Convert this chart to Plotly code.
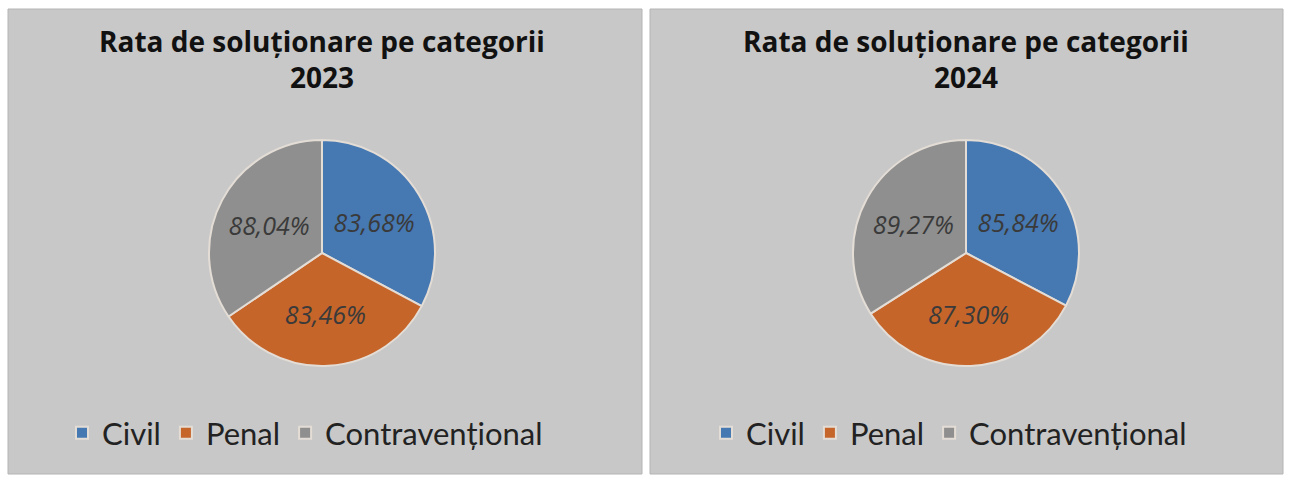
import plotly.graph_objects as go

W, H = 1301, 479

categories = ["Civil", "Penal", "Contravențional"]
rates_2023 = [83.68, 83.46, 88.04]
rates_2024 = [85.84, 87.30, 89.27]
labels_2023 = ["83,68%", "83,46%", "88,04%"]
labels_2024 = ["85,84%", "87,30%", "89,27%"]
years = ["2023", "2024"]

colors = ["#4678b2", "#c6652a", "#8f8f8f"]
bg = "#c8c8c8"


def px_x(v):
    return v / W


def px_y(v):
    return 1 - v / H


fig = go.Figure()

panels = [(8, 642), (650, 1283)]
centers = [322, 966]
cy, r = 253, 113

for i, (vals, txt) in enumerate([(rates_2023, labels_2023), (rates_2024, labels_2024)]):
    cx = centers[i]
    fig.add_trace(go.Pie(
        labels=categories,
        values=vals,
        text=txt,
        textinfo="text",
        hoverinfo="label+text",
        sort=False,
        direction="clockwise",
        rotation=0,
        marker=dict(colors=colors, line=dict(color="#e4ddd6", width=2)),
        textposition="inside",
        insidetextorientation="horizontal",
        textfont=dict(family="Open Sans", size=25, color="#3a3a3a", style="italic"),
        domain=dict(x=[px_x(cx - r), px_x(cx + r)], y=[px_y(cy + r), px_y(cy - r)]),
        legend="legend" if i == 0 else "legend2",
        legendgroup=years[i],
        showlegend=True,
    ))

for (x0, x1), cx, yr in zip(panels, centers, years):
    fig.add_shape(type="rect", xref="paper", yref="paper",
                  x0=px_x(x0), x1=px_x(x1), y0=px_y(474), y1=px_y(9),
                  fillcolor=bg, line=dict(color="#b4b4b4", width=1), layer="below")
    fig.add_annotation(
        x=px_x(cx), y=px_y(59), xref="paper", yref="paper",
        text="<b>Rata de soluționare pe categorii<br>" + yr + "</b>",
        showarrow=False, xanchor="center", yanchor="middle",
        font=dict(family="Open Sans", size=28, color="#111111"),
    )

legend_style = dict(
    orientation="h", xanchor="left", yanchor="middle",
    y=px_y(433), font=dict(family="Lato", size=31, color="#222222"),
    bgcolor="rgba(0,0,0,0)", itemclick=False, traceorder="normal",
)

fig.update_layout(
    width=W, height=H,
    margin=dict(l=0, r=0, t=0, b=0),
    paper_bgcolor="white",
    plot_bgcolor="white",
    legend=dict(x=px_x(62), **legend_style),
    legend2=dict(x=px_x(706), **legend_style),
)

fig.write_html("out.html", config={"displayModeBar": False},
               post_script="document.body.style.margin='0';")
